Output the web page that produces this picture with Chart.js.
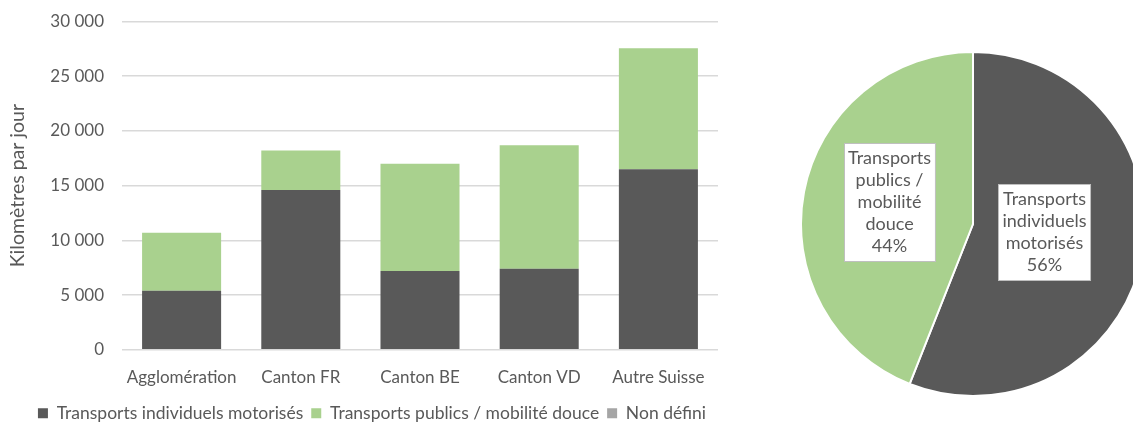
<!DOCTYPE html>
<html lang="fr">
<head>
<meta charset="utf-8">
<script src="https://cdn.jsdelivr.net/npm/chart.js@4.4.1/dist/chart.umd.min.js"></script>
<style>
  html, body { margin: 0; padding: 0; background: #fff; overflow: hidden; width: 1133px; height: 423px; }
  #bar-wrap { position: absolute; left: 0; top: 0; width: 730px; height: 432px; }
  #pie-wrap { position: absolute; left: 800px; top: 51px; width: 346px; height: 346px; }
</style>
</head>
<body>
<div id="bar-wrap"><canvas id="bar-chart"></canvas></div>
<div id="pie-wrap"><canvas id="pie-chart"></canvas></div>
<script>
// km per day by destination, split by transport mode
const categories = ['Agglomération', 'Canton FR', 'Canton BE', 'Canton VD', 'Autre Suisse'];
const motorises = [5400, 14600, 7200, 7400, 16500];
const publics = [5300, 3600, 9800, 11300, 11050];
const nonDefini = [0, 0, 0, 0, 0];

const seriesNames = ['Transports individuels motorisés', 'Transports publics / mobilité douce', 'Non défini'];
const seriesColors = ['#595959', '#a9d18e', '#a5a5a5'];

// overall modal split (pie)
const pieLabels = [['Transports', 'individuels', 'motorisés'], ['Transports', 'publics /', 'mobilité', 'douce']];
const pieShares = [56, 44];

Chart.defaults.font.family = 'Lato, "Open Sans", sans-serif';
Chart.defaults.color = '#595959';

const formatThousands = v => String(v).replace(/\B(?=(\d{3})+(?!\d))/g, ' ');

new Chart(document.querySelector('#bar-chart'), {
    type: 'bar',
    data: {
        labels: categories,
        datasets: [
            { label: seriesNames[0], data: motorises, backgroundColor: seriesColors[0] },
            { label: seriesNames[1], data: publics, backgroundColor: seriesColors[1] },
            { label: seriesNames[2], data: nonDefini, backgroundColor: seriesColors[2] },
        ],
    },
    options: {
        responsive: true,
        maintainAspectRatio: false,
        animation: false,
        layout: { padding: { top: 21.5, right: 12, left: 26, bottom: 0 } },
        datasets: { bar: { categoryPercentage: 1, barPercentage: 0.663 } },
        scales: {
            x: {
                stacked: true,
                grid: { display: false },
                border: { display: false },
                ticks: { font: { size: 17 }, padding: 10, maxRotation: 0 },
                afterFit: scale => { scale.height = 46.75; },
            },
            y: {
                stacked: true,
                min: 0,
                max: 30000,
                border: { display: false },
                grid: { color: '#d9d9d9', lineWidth: 1.5, drawTicks: false },
                ticks: { stepSize: 5000, padding: 18, font: { size: 17 }, callback: v => formatThousands(v) },
                title: { display: true, text: 'Kilomètres par jour', font: { size: 19.5 }, padding: { top: -20, bottom: 0 } },
                afterFit: scale => {
                    // the tick padding would otherwise push the plot area down
                    scale.width = 96;
                    scale.paddingTop = 0;
                    scale.paddingBottom = 0;
                },
            },
        },
        plugins: {
            tooltip: { enabled: false },
            legend: {
                position: 'bottom',
                labels: { boxWidth: 10, boxHeight: 10, padding: 8, font: { size: 17.5 } },
            },
        },
    },
});

// boxed labels drawn inside each slice
const sliceLabels = {
    id: 'sliceLabels',
    afterDatasetsDraw(chart, args, opts) {
        const ctx = chart.ctx;
        const meta = chart.getDatasetMeta(0);
        const total = pieShares.reduce((a, b) => a + b, 0);
        ctx.save();
        ctx.font = `${opts.size}px Lato, "Open Sans", sans-serif`;
        ctx.textAlign = 'center';
        ctx.textBaseline = 'middle';
        meta.data.forEach((arc, i) => {
            const lines = [...pieLabels[i], Math.round(pieShares[i] / total * 100) + '%'];
            const pos = arc.tooltipPosition();
            const cx = pos.x + opts.offsets[i][0];
            const cy = pos.y + opts.offsets[i][1];
            const w = Math.max(...lines.map(l => ctx.measureText(l).width)) + opts.padX * 2;
            const h = lines.length * opts.lineHeight + opts.padY * 2;
            const x0 = Math.round(cx - w / 2) + 0.5;
            const y0 = Math.round(cy - h / 2) + 0.5;
            ctx.fillStyle = '#ffffff';
            ctx.fillRect(x0, y0, w, h);
            ctx.strokeStyle = '#bfbfbf';
            ctx.lineWidth = 1;
            ctx.strokeRect(x0, y0, w, h);
            ctx.fillStyle = '#595959';
            lines.forEach((line, j) => {
                ctx.fillText(line, cx, y0 + opts.padY + opts.lineHeight * (j + 0.5));
            });
        });
        ctx.restore();
    },
};

new Chart(document.querySelector('#pie-chart'), {
    type: 'pie',
    data: {
        labels: pieLabels.map(l => l.join(' ')),
        datasets: [{
            data: pieShares,
            backgroundColor: [seriesColors[0], seriesColors[1]],
            borderColor: '#ffffff',
            borderWidth: 2,
        }],
    },
    options: {
        responsive: true,
        maintainAspectRatio: false,
        animation: false,
        plugins: {
            legend: { display: false },
            tooltip: { enabled: false },
            sliceLabels: { size: 18, lineHeight: 22, padX: 4, padY: 4, offsets: [[-13, -8], [1, -6]] },
        },
    },
    plugins: [sliceLabels],
});
</script>
</body>
</html>
